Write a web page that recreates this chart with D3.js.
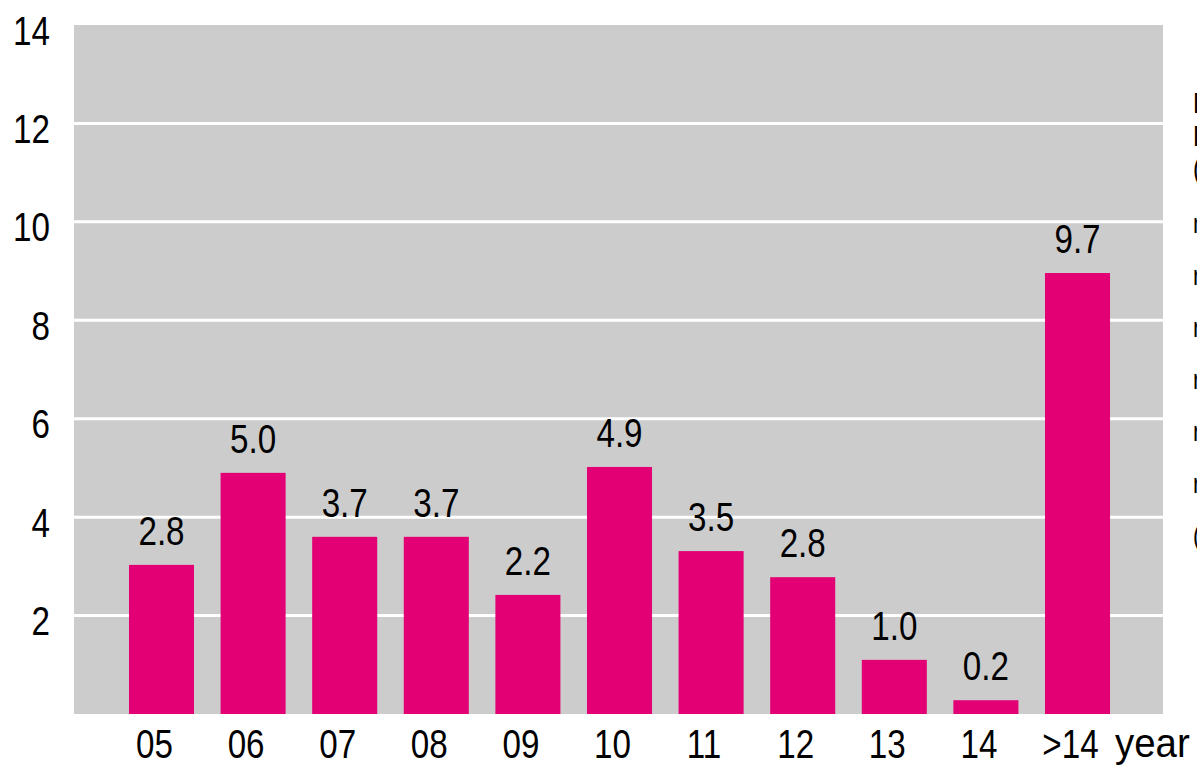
<!DOCTYPE html>
<html>
<head>
<meta charset="utf-8">
<script src="https://cdn.jsdelivr.net/npm/d3@7"></script>
<style>
  html, body { margin: 0; padding: 0; background: #fff; overflow: hidden; }
  svg { display: block; }
  text { font-family: "Liberation Sans", Arial, sans-serif; fill: #000; }
</style>
</head>
<body>
<svg id="chart" width="1197" height="767"></svg>
<script>
// ---- data ----
const categories = ["05", "06", "07", "08", "09", "10", "11", "12", "13", "14", ">14"];
const barValues = [3.03, 4.90, 3.60, 3.60, 2.42, 5.02, 3.31, 2.78, 1.10, 0.28, 8.96];
const valueLabels = ["2.8", "5.0", "3.7", "3.7", "2.2", "4.9", "3.5", "2.8", "1.0", "0.2", "9.7"];
const yTicks = [2, 4, 6, 8, 10, 12, 14];
const xUnit = "year";
const legendHead = ["Boilers", "Built", "(share %)"];
const legendItems = ["new", "retrofitted", "replaced", "renewed", "repaired", "removed", "(total)"];

// ---- layout ----
const NARROW = 0.83;
const svg = d3.select("#chart");
const plot = { left: 74, right: 1163, top: 25, bottom: 714 };

const y = d3.scaleLinear().domain([0, 14]).range([plot.bottom, plot.top]);
const x = d3.scaleBand().domain(categories)
  .range([115.7, 1123.3]).paddingInner(0.29).paddingOuter(0.145);

// background
svg.append("rect")
  .attr("x", plot.left).attr("y", plot.top)
  .attr("width", plot.right - plot.left).attr("height", plot.bottom - plot.top)
  .attr("fill", "#cccccc");

// gridlines
svg.append("g").selectAll("line")
  .data(yTicks.filter(t => t < 14))
  .join("line")
  .attr("x1", plot.left).attr("x2", plot.right)
  .attr("y1", d => y(d)).attr("y2", d => y(d))
  .attr("stroke", "#ffffff").attr("stroke-width", 3);

// y axis labels (condensed)
const yAxis = d3.axisLeft(y).tickValues(yTicks).tickSize(0).tickPadding(0).tickFormat(d3.format("d"));
const yg = svg.append("g").attr("transform", "translate(50,0)").call(yAxis);
yg.select(".domain").remove();
yg.selectAll("text")
  .attr("font-size", 40)
  .attr("dy", null).attr("x", 0).attr("y", 19)
  .attr("text-anchor", "end")
  .attr("transform", `scale(${NARROW},1)`)
  .style("font-family", '"Liberation Sans", Arial, sans-serif')
  .attr("fill", "#000");

const rows = categories.map((c, i) => ({ c, v: barValues[i], l: valueLabels[i] }));

// bars
svg.append("g").selectAll("rect")
  .data(rows)
  .join("rect")
  .attr("x", d => x(d.c))
  .attr("y", d => y(d.v))
  .attr("width", x.bandwidth())
  .attr("height", d => y(0) - y(d.v))
  .attr("fill", "#e20074");

// value labels
svg.append("g").selectAll("text")
  .data(rows)
  .join("text")
  .attr("transform", d => `translate(${x(d.c) + x.bandwidth() / 2},${y(d.v) - 20}) scale(${NARROW},1)`)
  .attr("text-anchor", "middle")
  .attr("font-size", 40)
  .text(d => d.l);

// x axis labels
const xAxis = d3.axisBottom(x).tickSize(0).tickPadding(0);
const xg = svg.append("g").attr("transform", "translate(-7,758)").call(xAxis);
xg.select(".domain").remove();
xg.selectAll("text")
  .attr("font-size", 40)
  .attr("dy", null).attr("y", 0)
  .attr("transform", `scale(${NARROW},1)`)
  .style("font-family", '"Liberation Sans", Arial, sans-serif')
  .attr("fill", "#000");

svg.append("text")
  .attr("transform", `translate(1115,757) scale(0.96,1)`)
  .attr("font-size", 40)
  .text(xUnit);

// legend text on right edge (runs off the canvas, as in the reference)
svg.append("g").selectAll("text")
  .data(legendHead)
  .join("text")
  .attr("transform", (d, i) => `translate(1193,${113 + i * 33}) scale(${NARROW},1)`)
  .attr("font-size", 29)
  .text(d => d);

svg.append("g").selectAll("text")
  .data(legendItems)
  .join("text")
  .attr("transform", (d, i) => `translate(1193,${233 + i * 52}) scale(${NARROW},1)`)
  .attr("font-size", 27)
  .text(d => d);
</script>
</body>
</html>
